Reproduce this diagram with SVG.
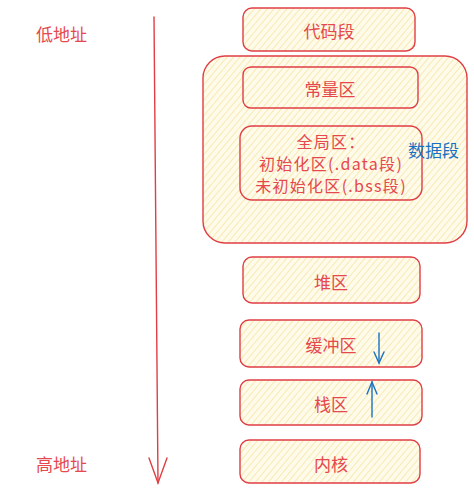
<svg xmlns="http://www.w3.org/2000/svg" width="474" height="492" viewBox="0 0 474 492">
<defs>
<pattern id="hatch" patternUnits="userSpaceOnUse" width="5" height="5" patternTransform="rotate(40)">
<rect width="5" height="5" fill="#fffbea"/>
<line x1="0" y1="0" x2="0" y2="5" stroke="#f6e5a6" stroke-width="1.6"/>
</pattern>
</defs>
<style>
.box{fill:url(#hatch);stroke:#e03e45;stroke-width:1.4}
.t{font-family:"Noto Sans CJK SC","Noto Sans",sans-serif;font-size:17px;fill:#e5484d;text-anchor:middle;dominant-baseline:central}
.m{font-family:"Noto Sans CJK SC","Noto Sans",sans-serif;font-size:16px;letter-spacing:1.3px;fill:#e5484d;text-anchor:middle;dominant-baseline:central}
.lbl{font-family:"Noto Sans CJK SC","Noto Sans",sans-serif;font-size:17px;fill:#e5484d;dominant-baseline:central}
.blue{font-family:"Noto Sans CJK SC","Noto Sans",sans-serif;font-size:17px;fill:#1971c2;dominant-baseline:central}
.rl{fill:none;stroke:#e03e45;stroke-width:1.4;stroke-linecap:round}
.bl{fill:none;stroke:#1971c2;stroke-width:1.4;stroke-linecap:round}
</style>
<rect width="474" height="492" fill="#ffffff"/>
<g id="data-segment">
<rect class="box" x="203" y="56" width="264" height="187" rx="22"/>
</g>
<g id="code-segment">
<rect class="box" x="243" y="8" width="172" height="43" rx="9"/>
<text class="t" x="329" y="30">代码段</text>
</g>
<g id="const-area">
<rect class="box" x="243" y="67" width="175" height="41" rx="8"/>
<text class="t" x="330" y="88">常量区</text>
</g>
<g id="global-area">
<rect class="box" x="240" y="126" width="182" height="74" rx="12"/>
<text class="m" x="331" y="141">全局区：</text>
<text class="m" x="331" y="163">初始化区(.data段)</text>
<text class="m" x="331" y="185">未初始化区(.bss段)</text>
</g>
<g id="data-segment-label">
<text class="blue" x="408" y="149">数据段</text>
</g>
<g id="heap">
<rect class="box" x="243" y="257" width="177" height="46" rx="9"/>
<text class="t" x="331" y="281">堆区</text>
</g>
<g id="buffer">
<rect class="box" x="240" y="320" width="182" height="47" rx="9"/>
<text class="t" x="331" y="344">缓冲区</text>
</g>
<g id="stack">
<rect class="box" x="240" y="380" width="182" height="45" rx="9"/>
<text class="t" x="331" y="403">栈区</text>
</g>
<g id="kernel">
<rect class="box" x="240" y="440" width="180" height="43" rx="9"/>
<text class="t" x="331" y="463">内核</text>
</g>
<g id="labels">
<text class="lbl" x="36" y="33">低地址</text>
<text class="lbl" x="36" y="463">高地址</text>
</g>
<g id="connectors">
<path class="rl" d="M154 17 Q156 250 158 483"/>
<path class="rl" d="M149 458 L158 483 L167 458"/>
<path class="bl" d="M379 333 L379 363"/>
<path class="bl" d="M374 352 L379 363 L384 352"/>
<path class="bl" d="M372 417 L372 382"/>
<path class="bl" d="M367 394 L372 382 L377 394"/>
</g>
</svg>
